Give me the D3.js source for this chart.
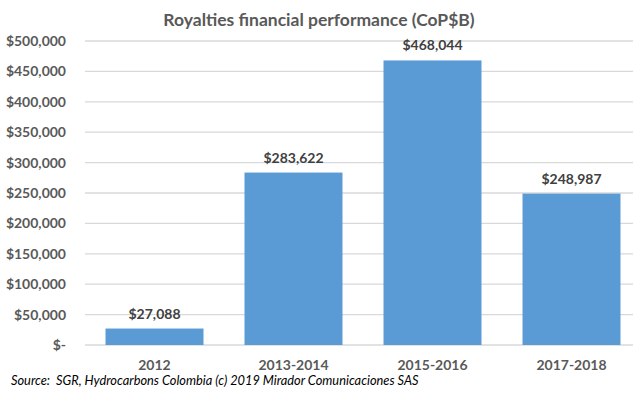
<!DOCTYPE html>
<html>
<head>
<meta charset="utf-8">
<script src="https://cdn.jsdelivr.net/npm/d3@7.9.0/dist/d3.min.js"></script>
<style>
  body { margin: 0; background: #fff; }
  svg { display: block; font-family: Lato, "Open Sans", sans-serif; }
</style>
</head>
<body>
<svg id="chart" width="640" height="394"></svg>
<script>
// Chart data
const periods = ['2012', '2013-2014', '2015-2016', '2017-2018'];
const royalties = [27088, 283622, 468044, 248987];
const yTicks = [0, 50000, 100000, 150000, 200000, 250000, 300000, 350000, 400000, 450000, 500000];

const title = 'Royalties financial performance (CoP$B)';
const source = 'Source:  SGR, Hydrocarbons Colombia (c) 2019 Mirador Comunicaciones SAS';

const textColor = '#595959';
const barColor = '#5B9BD5';

const svg = d3.select('#chart');

const x = d3.scaleBand()
    .domain(periods)
    .range([85, 641])
    .paddingInner(0.295)
    .paddingOuter(0.1475);

const y = d3.scaleLinear()
    .domain([0, 500000])
    .range([345, 41]);

const money = d3.format(',');
const tickLabel = v => v === 0 ? '$-' : '$' + money(v);

// Gridlines
svg.append('g')
    .selectAll('line')
    .data(yTicks)
    .join('line')
    .attr('x1', 85)
    .attr('x2', 633)
    .attr('y1', d => y(d))
    .attr('y2', d => y(d))
    .attr('stroke', '#d9d9d9')
    .attr('stroke-width', 1.3);

// Y axis labels
svg.append('g')
    .selectAll('text')
    .data(yTicks)
    .join('text')
    .attr('x', 66)
    .attr('y', d => y(d) + 5)
    .attr('text-anchor', 'end')
    .attr('font-size', 14)
    .attr('font-weight', 'bold')
    .attr('fill', textColor)
    .text(tickLabel);

// Bars
svg.append('g')
    .selectAll('rect')
    .data(royalties)
    .join('rect')
    .attr('x', (d, i) => x(periods[i]))
    .attr('width', x.bandwidth())
    .attr('y', d => y(d))
    .attr('height', d => y(0) - y(d))
    .attr('fill', barColor);

// Value labels
svg.append('g')
    .selectAll('text')
    .data(royalties)
    .join('text')
    .attr('x', (d, i) => x(periods[i]) + x.bandwidth() / 2)
    .attr('y', d => y(d) - 10)
    .attr('text-anchor', 'middle')
    .attr('font-size', 14)
    .attr('font-weight', 'bold')
    .attr('fill', '#404040')
    .text(d => '$' + money(d));

// Category labels
svg.append('g')
    .selectAll('text')
    .data(periods)
    .join('text')
    .attr('x', d => x(d) + x.bandwidth() / 2)
    .attr('y', 370)
    .attr('text-anchor', 'middle')
    .attr('font-size', 14)
    .attr('font-weight', 'bold')
    .attr('fill', textColor)
    .text(d => d);

// Title
svg.append('text')
    .attr('x', 319)
    .attr('y', 26)
    .attr('text-anchor', 'middle')
    .attr('font-size', 17.5)
    .attr('font-weight', 'bold')
    .attr('fill', textColor)
    .text(title);

// Source note
svg.append('text')
    .attr('x', 11)
    .attr('y', 385)
    .attr('font-size', 12.8)
    .attr('font-style', 'italic')
    .attr('fill', '#000')
    .attr('xml:space', 'preserve')
    .style('white-space', 'pre')
    .text(source);
</script>
</body>
</html>
